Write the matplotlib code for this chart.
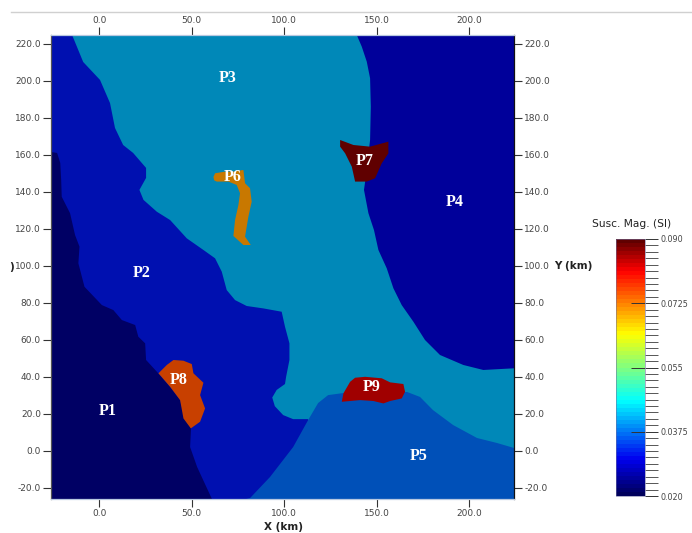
import matplotlib
matplotlib.use("Agg")
import matplotlib.pyplot as plt
from matplotlib.cm import ScalarMappable
from matplotlib.colors import LinearSegmentedColormap, Normalize
from matplotlib.lines import Line2D

plt.rcParams["axes.unicode_minus"] = False

# domain limits in km
x_limits = [-26.0, 224.3]
y_limits = [-26.2, 224.8]
x_ticks = [0, 50, 100, 150, 200]
y_ticks = [-20, 0, 20, 40, 60, 80, 100, 120, 140, 160, 180, 200, 220]

# region outlines (x, y in km)
p1_x = [-26, -22.7, -21, -20.5, -20.2, -15.7, -13, -10.6, -11.2, -7.9, 1.5, 7.7, 12.3, 19.5, 21.2, 24.9, 25.4, 31.9, 38.4, 43.8, 46.5, 49.7, 49.2, 53, 61, -26]
p1_y = [161.5, 161, 155.6, 146.4, 137.3, 128.4, 116.6, 110.3, 101.3, 88.6, 78.7, 76, 70.6, 67.9, 61.6, 58, 49, 41.9, 34.4, 27.3, 16.5, 12.2, 1.9, -8.9, -26.2, -26.2]

p2_x = [-26, -14.6, -8.6, 0.5, 5.9, 8.6, 13, 18.4, 25.4, 25.4, 21.8, 24, 31.2, 38.4, 47.4, 56.4, 62.7, 66.3, 69, 73.5, 79.8, 88.8, 98.7, 100.5, 102.9, 102.9, 101.1, 100.5, 96, 93.6, 95, 99.5, 104.9, 113, 113, -26]
p2_y = [224.8, 224.8, 210.2, 200.5, 188, 174.5, 165.3, 161, 152.9, 147.5, 141, 135.6, 129.2, 124.7, 114.8, 108.5, 104, 96.8, 86.8, 81.4, 78.2, 76.9, 75.1, 67, 58, 49, 39.9, 36, 32.8, 28.7, 24, 19.2, 17, 17, -26.2, -26.2]

p4_x = [139.3, 142, 144.7, 146.5, 146.9, 146.5, 143.8, 143.2, 145.6, 148.6, 151, 155.5, 159.1, 163.6, 169.9, 176.2, 184.3, 196.9, 207.7, 224.3, 224.3]
p4_y = [224.8, 218.5, 210.4, 201.4, 186, 168, 145.3, 141, 128.4, 119.3, 108.5, 98.6, 87.8, 78.7, 69.7, 59.8, 51.7, 46.3, 43.6, 44.5, 224.8]

p5_x = [79.5, 81.6, 92.4, 104.9, 113, 118.4, 123.8, 131.9, 150, 166.5, 173.5, 180.5, 191.4, 204.3, 215.1, 224.3, 224.3]
p5_y = [-26.2, -25.7, -14.3, 1.9, 16.5, 25.7, 30, 31.1, 31, 31.7, 29, 21.9, 13.8, 6.8, 4.1, 1.4, -26.2]

p6_x = [61.8, 62.7, 68.1, 72.6, 78, 78.9, 81.6, 82.5, 80.7, 78.9, 82, 78, 72.6, 73.5, 75.3, 76.2, 74.4, 69.9, 63.6, 62.2]
p6_y = [148, 150, 150.9, 150.9, 151.8, 144.6, 141.9, 134.6, 126.5, 115.7, 111.2, 111.2, 116.1, 124.7, 132.8, 139.2, 143.7, 145.5, 145.5, 146.2]

p7_x = [130.3, 137.5, 146.5, 156.4, 156.4, 152.8, 149.2, 144.7, 138.4, 136.6, 133, 130.3]
p7_y = [168, 165.3, 164.4, 167.1, 160.8, 155.4, 147.3, 145.5, 145.5, 153.6, 160.8, 164.4]

p8_x = [32.1, 36.6, 40.2, 45.6, 50.1, 51, 56.4, 54.6, 57.3, 54.6, 49.6, 45.6, 43.8, 38.4]
p8_y = [41.8, 46.3, 49, 48.6, 46.8, 41.8, 36.7, 30, 22.8, 15.6, 12, 17.4, 27.3, 34.5]

p9_x = [131.2, 132.1, 135.7, 138.4, 143.8, 152.8, 157.3, 164.5, 165.4, 163.6, 157.3, 153.7, 148.3, 141.1]
p9_y = [26.4, 31, 37.2, 39.4, 39.9, 39.1, 36.9, 36, 31.8, 28.2, 26.8, 25.5, 26.8, 27.3]

# label name, x, y
labels = [("P1", 4.9, 21.4), ("P2", 23.2, 96), ("P3", 69.7, 201.6), ("P4", 192.4, 134.5),
          ("P5", 173, -3), ("P6", 72.4, 148), ("P7", 143.8, 156.7), ("P8", 43.2, 38.1), ("P9", 147.6, 34.4)]

# colour bar
susc_min = 0.020
susc_max = 0.090
susc_labels = [0.020, 0.0375, 0.055, 0.0725, 0.090]
inner_ticks = [0.0375, 0.055, 0.0725]
minor_ticks = [0.02175, 0.0235, 0.02525, 0.027, 0.02875, 0.0305, 0.03225, 0.034, 0.03575,
               0.03925, 0.041, 0.04275, 0.0445, 0.04625, 0.048, 0.04975, 0.0515, 0.05325,
               0.05675, 0.0585, 0.06025, 0.062, 0.06375, 0.0655, 0.06725, 0.069, 0.07075,
               0.07425, 0.076, 0.07775, 0.0795, 0.08125, 0.083, 0.08475, 0.0865, 0.08825]
ramp = [(0.0, "#00005c"), (0.14, "#0000f0"), (0.37, "#00ffff"), (0.5, "#80ff80"),
        (0.63, "#ffff00"), (0.88, "#ff0000"), (1.0, "#600000")]

text_color = "#444444"
W, H = 692, 533

fig = plt.figure(figsize=(W / 100, H / 100), dpi=100)
ax = fig.add_axes([51 / W, 1 - 499 / H, 463 / W, 464 / H])
ax.set_xlim(x_limits)
ax.set_ylim(y_limits)
ax.set_facecolor("#0088b8")

ax.fill(p2_x, p2_y, color="#0010b0", lw=0)
ax.fill(p1_x, p1_y, color="#000064", lw=0)
ax.fill(p4_x, p4_y, color="#00009a", lw=0)
ax.fill(p5_x, p5_y, color="#0050b8", lw=0)
ax.fill(p6_x, p6_y, color="#c87800", lw=0)
ax.fill(p7_x, p7_y, color="#600000", lw=0)
ax.fill(p8_x, p8_y, color="#c84000", lw=0)
ax.fill(p9_x, p9_y, color="#a00000", lw=0)

for name, lx, ly in labels:
    ax.text(lx, ly, name, color="white", fontsize=11.5, fontweight="bold",
            family="Liberation Serif", ha="center", va="center")

ax.set_xticks(x_ticks)
ax.set_yticks(y_ticks)
ax.xaxis.set_major_formatter("{x:.1f}")
ax.yaxis.set_major_formatter("{x:.1f}")
ax.tick_params(axis="both", top=True, right=True, labeltop=True, labelright=True,
               length=5.8, width=0.8, pad=1.5, labelsize=6.5, color="#333333", labelcolor=text_color)
ax.spines["top"].set_color("#b8c8e0")
ax.spines["bottom"].set_color("#b8c8e0")
ax.spines["left"].set_color("#555555")
ax.spines["right"].set_color("#111111")
for side in ax.spines:
    ax.spines[side].set_linewidth(0.9)

fig.text(284 / W, 1 - 527 / H, "X (km)", fontsize=7.5, fontweight="bold", color="#222222", ha="center", va="center")
fig.text(573 / W, 1 - 266 / H, "Y (km)", fontsize=7.5, fontweight="bold", color="#222222", ha="center", va="center")
fig.text(12 / W, 1 - 267 / H, ")", fontsize=7.5, fontweight="bold", color="#222222", ha="center", va="center")

# thin line along the top of the page
fig.add_artist(Line2D([11 / W, 1], [1 - 12 / H, 1 - 12 / H], color="#d0d0d0", lw=1))

# colour bar
cax = fig.add_axes([616 / W, 1 - 496 / H, 29 / W, 257 / H])
cmap = LinearSegmentedColormap.from_list("susc", ramp, N=64)
cbar = fig.colorbar(ScalarMappable(Normalize(susc_min, susc_max), cmap), cax=cax)
cbar.outline.set_linewidth(0.4)
cbar.outline.set_edgecolor("#7070a0")
cbar.set_ticks(susc_labels, labels=["0.020", "0.0375", "0.055", "0.0725", "0.090"])
cax.set_yticks(minor_ticks, minor=True)
cax.tick_params(which="major", length=9.4, width=0.7, pad=2, labelsize=5.8, color="#333333", labelcolor=text_color)
cax.tick_params(which="minor", length=9.4, width=0.7, color="#555555")
cax.hlines(inner_ticks, 0.5, 1, transform=cax.get_yaxis_transform(), color="#333333", lw=0.7)
fig.text(632 / W, 1 - 224 / H, "Susc. Mag. (SI)", fontsize=7.7, color="#222222", ha="center", va="center")

fig.savefig("out.png", dpi=100)
